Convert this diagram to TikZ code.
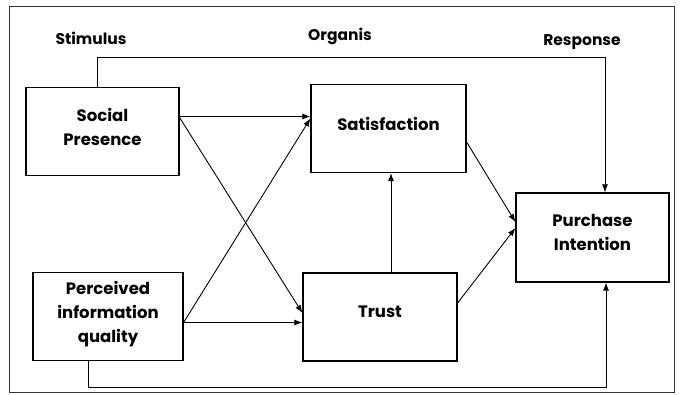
\documentclass[tikz,border=0pt]{standalone}
\usepackage{fontspec}
\setmainfont{Poppins}
\usepackage{tikz}
\usetikzlibrary{positioning, arrows.meta}

\tikzset{
  box/.style={draw, line width=1.2pt, minimum width=153pt, minimum height=88pt,
    align=center, text depth=10pt, font=\fontsize{16.5}{24}\selectfont\bfseries},
  stage/.style={font=\fontsize{15.5}{18}\selectfont\bfseries},
  arr/.style={-{Latex[length=8pt,width=6pt]}, line width=0.9pt}
}

\begin{document}
\begin{tikzpicture}[x=1pt, y=-1pt]
    \useasboundingbox (0,0) rectangle (680,394);
    \draw[line width=0.8pt, black!80] (9,6) rectangle (674,392);

    % Stage headings
    \node[stage] (stim) at (91,38) {Stimulus};
    \node[stage] (org)  at (340,36) {Organis};
    \node[stage] (resp) at (582,42) {Response};

    \node[box] (sp)    at (102.5,131.5) {Social\\Presence};
    \node[box, minimum width=150pt] (piq) at (108,316.5) {Perceived\\information\\quality};
    \node[box, minimum width=155pt] (sat) at (388.5,128.5) {Satisfaction};
    \node[box, minimum width=154pt] (trust) at (380,317) {Trust};
    \node[box, minimum height=89pt] (pi) at (592.5,237.5) {Purchase\\Intention};

    \coordinate (c1) at (97,57);
    \coordinate (c2) at (605,57);
    \coordinate (c3) at (88,387);
    \coordinate (c4) at (606,387);

    \draw[arr] (sp.north -| c1) -- (c1) -- (c2) -- (pi.north -| c2);
    \draw[arr] (piq.south -| c3) -- (c3) -- (c4) -- (pi.south -| c4);

    \draw[arr] ([yshift=15pt]sp.east) -- ([yshift=15pt]sp.east -| sat.west);
    \draw[arr] ([yshift=14pt]sp.east) -- ([yshift=4pt]trust.west);
    \draw[arr] ([yshift=-6pt]piq.east) -- ([yshift=10pt]sat.west);
    \draw[arr] ([yshift=-6pt]piq.east) -- ([yshift=-6pt]piq.east -| trust.west);
    \draw[arr] ([xshift=11pt]trust.north) -- ([xshift=11pt]trust.north |- sat.south);
    \draw[arr] ([yshift=-13.5pt]sat.east) -- ([yshift=15.5pt]pi.west);
    \draw[arr] ([yshift=14pt]trust.east) -- ([yshift=9.5pt]pi.west);
\end{tikzpicture}
\end{document}
